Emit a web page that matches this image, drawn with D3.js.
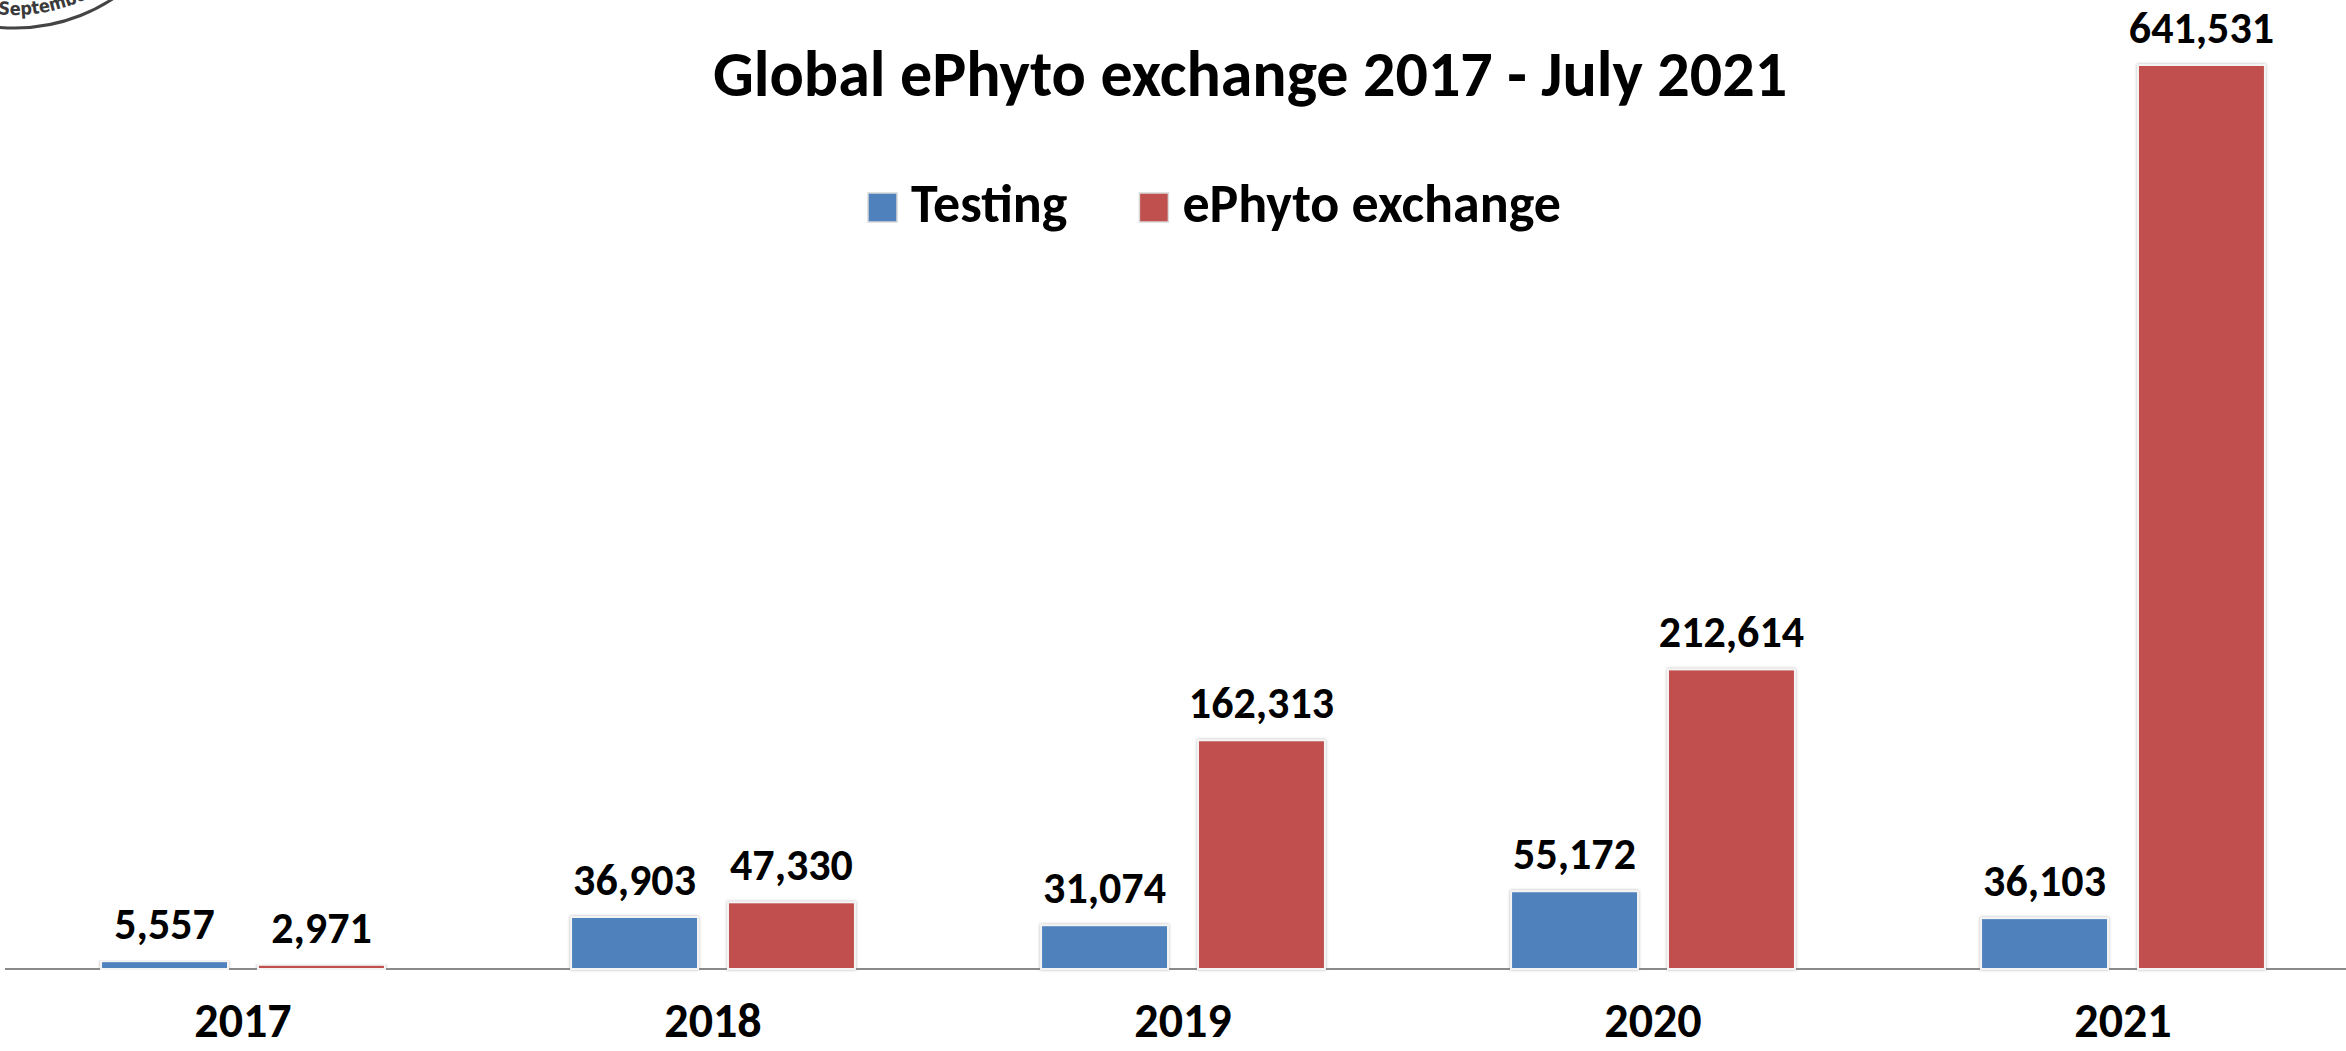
<!DOCTYPE html>
<html>
<head>
<meta charset="utf-8">
<script src="https://cdn.jsdelivr.net/npm/d3@7"></script>
<style>
  html, body { margin: 0; padding: 0; background: #fff; }
  svg { display: block; }
  text { font-family: Carlito, Calibri, Lato, "Liberation Sans", sans-serif; font-weight: bold; }
</style>
</head>
<body>
<svg id="chart" width="2346" height="1051"></svg>
<script>
const years = ["2017", "2018", "2019", "2020", "2021"];
const seriesNames = ["Testing", "ePhyto exchange"];
const testing = [5557, 36903, 31074, 55172, 36103];
const ephyto = [2971, 47330, 162313, 212614, 641531];
const seriesColors = ["#4F81BD", "#C0504D"];
const titleText = "Global ePhyto exchange 2017 - July 2021";

const W = 2346, H = 1051;
const svg = d3.select("#chart");

const defs = svg.append("defs");
const f = defs.append("filter").attr("id", "shadow").attr("x", "-10%").attr("y", "-10%").attr("width", "120%").attr("height", "120%");
f.append("feDropShadow").attr("dx", 0).attr("dy", 0).attr("stdDeviation", 1.6)
  .attr("flood-color", "#777").attr("flood-opacity", 0.55);

// stamp fragment top-left
const stamp = svg.append("g").attr("class", "stamp");
const cx = 15, cy = -150, r = 178;
stamp.append("circle").attr("cx", cx).attr("cy", cy).attr("r", r)
  .attr("fill", "none").attr("stroke", "#444").attr("stroke-width", 3);
const ri = 165;
const a0 = Math.acos((-2 - cx) / ri), a1 = 0.9;
defs.append("path").attr("id", "stampArc")
  .attr("d", `M${cx + ri * Math.cos(a0)},${cy + ri * Math.sin(a0)} A${ri},${ri} 0 0 0 ${cx + ri * Math.cos(a1)},${cy + ri * Math.sin(a1)}`);
stamp.append("text").attr("font-size", 18).attr("fill", "#3a3a3a")
  .style("font-family", "'Liberation Sans Narrow', 'DejaVu Sans Condensed', sans-serif")
  .append("textPath").attr("href", "#stampArc").attr("startOffset", 0)
  .text("September");

// scales
const x0 = d3.scaleBand().domain(years).range([8, 2358]).paddingInner(0.396).paddingOuter(0.198);
const x1 = d3.scaleBand().domain(seriesNames).range([0, x0.bandwidth()]).paddingInner(0.191);
const y = d3.scaleLinear().domain([0, d3.max(ephyto)]).range([969, 65]);
const color = d3.scaleOrdinal().domain(seriesNames).range(seriesColors);

// title
svg.append("text").attr("x", 1250).attr("y", 96).attr("text-anchor", "middle")
  .attr("font-size", 64).attr("fill", "#000").text(titleText);

// legend
const leg = svg.append("g").attr("transform", "translate(868,193)");
let lx = 0;
seriesNames.forEach((s, i) => {
  const g = leg.append("g").attr("transform", `translate(${lx},0)`);
  g.append("rect").attr("width", 29).attr("height", 29).attr("fill", color(s))
    .attr("stroke", "#d8d8d8").attr("stroke-width", 1.5);
  const t = g.append("text").attr("x", 43).attr("y", 29).attr("font-size", 54).attr("fill", "#000").text(s);
  lx += 43 + t.node().getComputedTextLength() + 72;
});

// data rows
const rows = years.map((yr, i) => ({ year: yr, values: [
  { key: seriesNames[0], value: testing[i] },
  { key: seriesNames[1], value: ephyto[i] }
]}));

// axis
const xAxis = d3.axisBottom(x0).tickSize(0).tickPadding(0).tickFormat(() => "");
const axisG = svg.append("g").attr("transform", "translate(0,969)").call(xAxis);
axisG.select(".domain").attr("stroke", "#8a8a8a").attr("stroke-width", 2)
  .attr("d", "M5,0H2346");

// bars
const groups = svg.append("g").selectAll("g").data(rows).join("g")
  .attr("transform", d => `translate(${x0(d.year)},0)`);
groups.selectAll("rect").data(d => d.values).join("rect")
  .attr("x", d => x1(d.key))
  .attr("y", d => y(d.value))
  .attr("width", x1.bandwidth())
  .attr("height", d => y(0) - y(d.value))
  .attr("fill", d => color(d.key))
  .attr("stroke", "#f4f4f4")
  .attr("stroke-width", 2)
  .attr("filter", "url(#shadow)");

const fmt = d3.format(",");
groups.selectAll("text.val").data(d => d.values).join("text")
  .attr("class", "val")
  .attr("x", d => x1(d.key) + x1.bandwidth() / 2)
  .attr("y", d => y(d.value) - 22)
  .attr("text-anchor", "middle")
  .attr("font-size", 44)
  .attr("fill", "#000")
  .text(d => fmt(d.value));

// year labels
svg.append("g").selectAll("text").data(years).join("text")
  .attr("x", d => x0(d) + x0.bandwidth() / 2)
  .attr("y", 969 + 68)
  .attr("text-anchor", "middle")
  .attr("font-size", 48)
  .attr("fill", "#000")
  .text(d => d);
</script>
</body>
</html>
